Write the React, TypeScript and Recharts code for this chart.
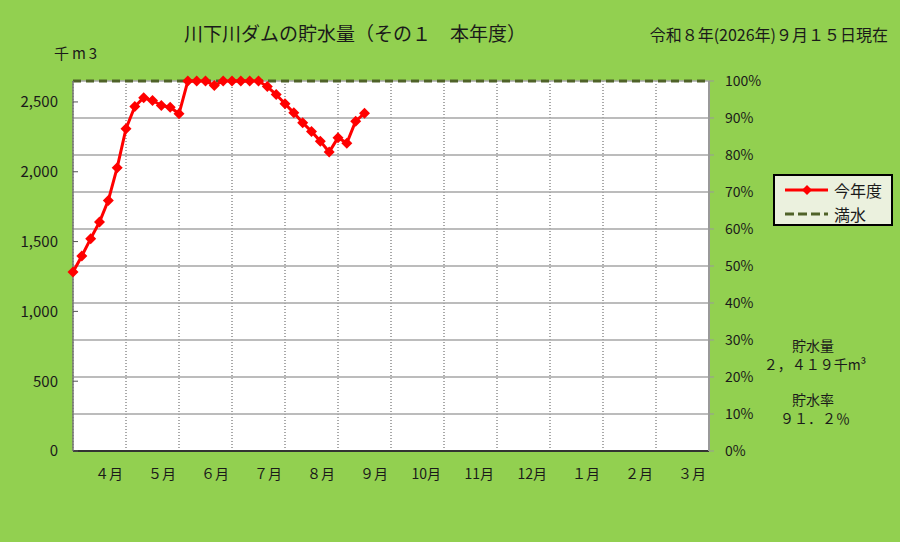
import React from 'react';
import { CartesianGrid, Line, LineChart, ReferenceLine, XAxis, YAxis } from 'recharts';

// 5-day periods from April 1 (index 0) to mid-September
const storage = [
  1282, 1397, 1521, 1640, 1795, 2029, 2308, 2467, 2530, 2510, 2475, 2462, 2415,
  2650, 2650, 2650, 2618, 2650, 2650, 2650, 2650, 2650, 2610, 2553, 2487, 2422,
  2351, 2289, 2219, 2141, 2244, 2205, 2362, 2419,
];
const FULL = 2650;
const monthLabels = ['４月', '５月', '６月', '７月', '８月', '９月', '10月', '11月', '12月', '１月', '２月', '３月'];
const monthTicks = [6, 12, 18, 24, 30, 36, 42, 48, 54, 60, 66, 72];
const volumeTicks = [0, 500, 1000, 1500, 2000, 2500];
const rateTicks = [0, 10, 20, 30, 40, 50, 60, 70, 80, 90, 100];

const chartData = storage.map((v, i) => ({ slot: i, storage: v, rate: (v / FULL) * 100 }));

const font = "'Noto Sans CJK JP', 'Noto Sans', sans-serif";
const ink = '#1a1a1a';

const Diamond = (props: any) => {
  const { cx, cy, index } = props;
  if (cx == null || cy == null) return <g key={`d-${index}`} />;
  const r = 5.5;
  return (
    <polygon
      key={`d-${index}`}
      points={`${cx},${cy - r} ${cx + r},${cy} ${cx},${cy + r} ${cx - r},${cy}`}
      fill="#ff0000"
    />
  );
};

const MonthTick = (props: any) => {
  const { x, y, payload } = props;
  const label = monthLabels[payload.value / 6 - 1];
  return (
    <text x={x - 3} y={y + 14} textAnchor="end" dominantBaseline="central" fontSize={14} fill={ink} fontFamily={font}>
      {label}
    </text>
  );
};

const Txt: React.FC<{ x: number; y: number; size: number; children: React.ReactNode; anchor?: string }> = ({
  x,
  y,
  size,
  children,
  anchor = 'center',
}) => (
  <div
    style={{
      position: 'absolute',
      left: x,
      top: y,
      transform: anchor === 'end' ? 'translate(-100%,-50%)' : 'translate(-50%,-50%)',
      fontSize: size,
      lineHeight: 1,
      whiteSpace: 'nowrap',
      color: ink,
    }}
  >
    {children}
  </div>
);

export default function App() {
  return (
    <div
      style={{
        position: 'absolute',
        left: 0,
        top: 0,
        width: 900,
        height: 542,
        background: '#92d050',
        fontFamily: font,
        overflow: 'hidden',
      }}
    >
      <LineChart width={900} height={542} data={chartData} margin={{ top: 81, right: 141, bottom: 61, left: 0 }}>
        <CartesianGrid horizontal={false} stroke="#555555" strokeDasharray="1 2" fill="#ffffff" />
        <XAxis
          dataKey="slot"
          type="number"
          domain={[0, 72]}
          ticks={monthTicks}
          tick={<MonthTick />}
          tickLine={false}
          axisLine={{ stroke: '#333333', strokeWidth: 2 }}
          height={30}
        />
        <YAxis
          domain={[0, FULL]}
          ticks={volumeTicks}
          tickFormatter={(v: number) => v.toLocaleString('en-US')}
          tick={{ fill: ink, fontSize: 15, fontFamily: font }}
          tickSize={-5}
          tickMargin={20}
          tickLine={{ stroke: '#555555' }}
          axisLine={{ stroke: '#777777', strokeWidth: 1.5 }}
          width={73}
        />
        <YAxis
          yAxisId="right"
          orientation="right"
          type="number"
          domain={[0, 100]}
          ticks={rateTicks}
          tickFormatter={(v: number) => `${v}%`}
          tick={{ fill: ink, fontSize: 14, fontFamily: font, textAnchor: 'start' }}
          tickSize={5}
          tickMargin={11}
          tickLine={{ stroke: '#999999' }}
          axisLine={{ stroke: '#999999', strokeWidth: 2 }}
          width={50}
        />
        {rateTicks.slice(1).map((t) => (
          <ReferenceLine key={t} yAxisId="right" y={t} stroke="#a6a6a6" strokeWidth={1.5} />
        ))}
        <ReferenceLine y={FULL} stroke="#4f6228" strokeWidth={3} strokeDasharray="8 5" />
        <Line
          yAxisId="right"
          dataKey="rate"
          stroke="none"
          dot={false}
          activeDot={false}
          legendType="none"
          isAnimationActive={false}
        />
        <Line
          dataKey="storage"
          stroke="#ff0000"
          strokeWidth={3}
          dot={Diamond}
          activeDot={false}
          isAnimationActive={false}
        />
      </LineChart>

      <Txt x={355} y={32} size={19}>川下川ダムの貯水量（その１　本年度）</Txt>
      <Txt x={888} y={34} size={16} anchor="end">令和８年(2026年)９月１５日現在</Txt>
      <Txt x={77} y={52} size={15}>
        <span style={{ letterSpacing: 3 }}>千m3</span>
      </Txt>

      <div
        style={{
          position: 'absolute',
          left: 773,
          top: 174,
          width: 120,
          height: 52,
          border: '2px solid #000',
          background: '#ebf1de',
          boxSizing: 'border-box',
          fontSize: 16,
          color: ink,
        }}
      >
        <div style={{ position: 'absolute', left: 9, top: 6, display: 'flex', alignItems: 'center' }}>
          <svg width={46} height={14}>
            <line x1={1} y1={7} x2={44} y2={7} stroke="#ff0000" strokeWidth={3} />
            <polygon points="23,2 28,7 23,12 18,7" fill="#ff0000" />
          </svg>
          <span style={{ marginLeft: 4, lineHeight: 1 }}>今年度</span>
        </div>
        <div style={{ position: 'absolute', left: 9, top: 30, display: 'flex', alignItems: 'center' }}>
          <svg width={46} height={14}>
            <line x1={1} y1={7} x2={44} y2={7} stroke="#4f6228" strokeWidth={3} strokeDasharray="9 4" />
          </svg>
          <span style={{ marginLeft: 4, lineHeight: 1 }}>満水</span>
        </div>
      </div>

      <Txt x={813} y={345} size={14}>貯水量</Txt>
      <Txt x={815} y={364} size={14}>２，４１９千m³</Txt>
      <Txt x={813} y={399} size={14}>貯水率</Txt>
      <Txt x={815} y={418} size={14}>９１．２％</Txt>
    </div>
  );
}
